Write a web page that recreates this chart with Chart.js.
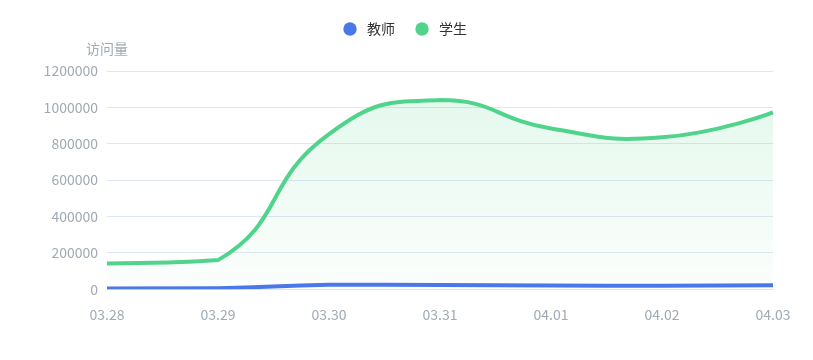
<!DOCTYPE html>
<html><head><meta charset="utf-8">
<script src="https://cdn.jsdelivr.net/npm/chart.js@4/dist/chart.umd.min.js"></script>
<style>html,body{margin:0;padding:0;background:#fff}</style>
</head><body>
<canvas id="c" width="813" height="360"></canvas>
<script>
const categories = ['03.28','03.29','03.30','03.31','04.01','04.02','04.03'];
const teacherValues = [4000, 5000, 24000, 23000, 20000, 19000, 22000];
const studentValues = [142000, 160000, 853000, 1040000, 884000, 835000, 972000];
const yTickValues = [0, 200000, 400000, 600000, 800000, 1000000, 1200000];
const seriesNames = ['教师', '学生'];
const axisName = '访问量';

const teacherColor = '#4a78e8';
const studentColor = '#50d48c';
const tickColor = '#a0aab4';
const fontFamily = '"Noto Sans CJK SC", "Noto Sans", sans-serif';

function dot(color) {
  const c = document.createElement('canvas');
  c.width = 14; c.height = 14;
  const x = c.getContext('2d');
  x.fillStyle = color;
  x.beginPath(); x.arc(7, 7, 6.7, 0, Math.PI * 2); x.fill();
  return c;
}

const legendGap = {
  id: 'legendGap',
  beforeUpdate(chart) {
    const lg = chart.legend;
    if (lg && !lg.__p) {
      const f = lg.fit;
      lg.fit = function () { f.apply(this, arguments); this.height += 25; };
      const d = lg.draw;
      lg.draw = function () {
        const c = this.ctx; c.save(); c.translate(17, 0);
        d.apply(this, arguments); c.restore();
      };
      lg.__p = true;
    }
  }
};

// Smooth-curve constraint: keep control points inside the vertical extent of the line's points
const smoothConstraint = {
  id: 'smoothConstraint',
  beforeDraw(chart) {
    chart.data.datasets.forEach((ds, i) => {
      const meta = chart.getDatasetMeta(i);
      const line = meta.dataset;
      if (!line) return;
      line.updateControlPoints(chart.chartArea, 'x');
      const pts = meta.data;
      if (!pts.length) return;
      let minY = Infinity, maxY = -Infinity;
      pts.forEach(p => { minY = Math.min(minY, p.y); maxY = Math.max(maxY, p.y); });
      pts.forEach((p, k) => {
        p.cp1y = Math.min(maxY, Math.max(minY, p.cp1y));
        p.cp2y = Math.min(maxY, Math.max(minY, p.cp2y));
        if (k === 0) { p.cp2x = p.x; p.cp2y = p.y; }
        if (k === pts.length - 1) { p.cp1x = p.x; p.cp1y = p.y; }
      });
    });
  }
};

const axisTitle = {
  id: 'axisTitle',
  afterDraw(chart) {
    const ctx = chart.ctx, ca = chart.chartArea;
    ctx.save();
    ctx.font = '14px ' + fontFamily;
    ctx.fillStyle = tickColor;
    ctx.textAlign = 'center';
    ctx.textBaseline = 'middle';
    ctx.fillText(axisName, ca.left, ca.top - 22);
    ctx.restore();
  }
};

new Chart(document.getElementById('c'), {
  type: 'line',
  data: {
    labels: categories,
    datasets: [
      {
        label: seriesNames[0],
        data: teacherValues,
        borderColor: teacherColor,
        backgroundColor: teacherColor,
        borderWidth: 4,
        pointRadius: 0, pointHoverRadius: 0,
        pointStyle: dot(teacherColor),
        tension: 0.5,
        fill: false
      },
      {
        label: seriesNames[1],
        data: studentValues,
        borderColor: studentColor,
        borderWidth: 4,
        pointRadius: 0, pointHoverRadius: 0,
        pointStyle: dot(studentColor),
        tension: 0.5,
        fill: 'origin',
        backgroundColor: (context) => {
          const chart = context.chart;
          const ca = chart.chartArea;
          if (!ca) return 'rgba(80,212,140,0.08)';
          const top = chart.scales.y.getPixelForValue(Math.max(...studentValues));
          const g = chart.ctx.createLinearGradient(0, top, 0, ca.bottom);
          g.addColorStop(0, 'rgba(80,212,140,0.15)');
          g.addColorStop(1, 'rgba(80,212,140,0.02)');
          return g;
        }
      }
    ]
  },
  options: {
    responsive: false,
    animation: false,
    layout: { padding: { top: 5, right: 40, bottom: 28, left: 0 } },
    plugins: {
      legend: {
        position: 'top',
        labels: {
          usePointStyle: true,
          pointStyleWidth: 20,
          boxHeight: 14,
          padding: 17,
          color: '#333',
          font: { size: 14, family: fontFamily }
        }
      },
      tooltip: { enabled: false }
    },
    scales: {
      x: {
        grid: { display: false },
        border: { display: true, color: '#e0e6f1', width: 1 },
        ticks: {
          color: tickColor, padding: 9, autoSkip: false, maxRotation: 0,
          font: { size: 14, family: fontFamily }
        }
      },
      y: {
        min: 0, max: 1200000,
        afterBuildTicks: (scale) => { scale.ticks = yTickValues.map(v => ({ value: v })); },
        afterFit: (scale) => { scale.width = 107; },
        grid: { color: '#e0e6f1', drawTicks: false },
        border: { display: false },
        ticks: {
          color: tickColor, padding: 9,
          font: { size: 14, family: fontFamily },
          callback: (v) => String(v)
        }
      }
    }
  },
  plugins: [legendGap, smoothConstraint, axisTitle]
});
</script>
</body></html>
